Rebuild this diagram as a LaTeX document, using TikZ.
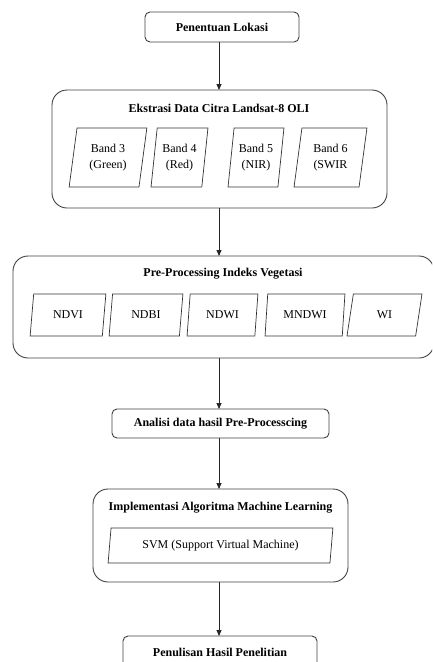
\documentclass[tikz,border=0pt]{standalone}
\usepackage{fontspec}
\setmainfont{Liberation Serif}
\usetikzlibrary{shapes.geometric,arrows.meta}

\tikzset{
  x=1pt, y=-1pt,
  frame/.style={draw=black!75, line width=0.9pt, rounded corners=#1},
  frame/.default=5pt,
  ttl/.style={font=\fontsize{12}{14}\selectfont\bfseries, inner sep=0pt},
  para/.style={trapezium, trapezium left angle=#1, trapezium right angle=180-#1,
    trapezium stretches=true, draw=black!80, line width=0.7pt,
    font=\fontsize{12}{16}\selectfont, align=center, inner sep=0pt},
  arr/.style={draw=black!85, line width=0.8pt, -{Triangle[length=6pt,width=5pt]}}
}

\begin{document}
\begin{tikzpicture}
\useasboundingbox (0,0) rectangle (432,662);
\clip (0,0) rectangle (432,662);

% x position of the vertical flow line
\coordinate (ax) at (219,0);

% Step 1: location
\draw[frame] (145,12) rectangle (299,42);
\node[ttl] (lok) at (222,27) {Penentuan Lokasi};
\coordinate (lokS) at (219,42);

% Step 2: Landsat-8 band extraction
\draw[frame=15pt] (52,90) rectangle (387,208);
\coordinate (extN) at (219,90);
\coordinate (extS) at (219,208);
\node[ttl] (ext) at (219,108) {Ekstrasi Data Citra Landsat-8 OLI};
\node[para=80, minimum width=78pt, minimum height=59pt] (b3) at (108,157.5) {Band 3\\(Green)};
\node[para=80, minimum width=57pt, minimum height=59pt] (b4) at (179.5,157.5) {Band 4\\(Red)};
\node[para=80, minimum width=56pt, minimum height=59pt] (b5) at (256,157.5) {Band 5\\(NIR)};
\node[para=80, minimum width=73pt, minimum height=59pt] (b6) at (330.5,157.5) {Band 6\\(SWIR};

% Step 3: vegetation index pre-processing
\draw[frame=15pt] (13,256) rectangle (434,358);
\coordinate (preN) at (219,256);
\coordinate (preS) at (219,358);
\node[ttl] (pre) at (223,274) {Pre-Processing Indeks Vegetasi};
\node[para=79, minimum width=76pt, minimum height=42pt] (i1) at (68,315) {NDVI};
\node[para=79, minimum width=74pt, minimum height=42pt] (i2) at (146,315) {NDBI};
\node[para=79, minimum width=71pt, minimum height=42pt] (i3) at (222.5,315) {NDWI};
\node[para=79, minimum width=80pt, minimum height=42pt] (i4) at (305,315) {MNDWI};
\node[para=79, minimum width=75pt, minimum height=42pt] (i5) at (384.5,315) {WI};

% Step 4: analysis
\draw[frame] (112,409) rectangle (329,438);
\node[ttl] (ana) at (220.5,423.5) {Analisi data hasil Pre-Processcing};
\coordinate (anaN) at (219,409);
\coordinate (anaS) at (219,438);

% Step 5: machine learning
\draw[frame=15pt] (93,489) rectangle (348,582);
\coordinate (mlN) at (219,489);
\coordinate (mlS) at (219,582);
\node[ttl] (ml) at (220.5,508) {Implementasi Algoritma Machine Learning};
\node[para=79, minimum width=225pt, minimum height=35pt] (svm) at (220.5,545.5) {SVM (Support Virtual Machine)};

% Step 6: report
\draw[frame] (123,636) rectangle (317,690);
\coordinate (tulN) at (219,636);
\node[ttl] (tul) at (220,652) {Penulisan Hasil Penelitian};

% flow arrows
\draw[arr] (lokS) -- (extN);
\draw[arr] (extS) -- (preN);
\draw[arr] (preS) -- (anaN);
\draw[arr] (anaS) -- (mlN);
\draw[arr] (mlS) -- (tulN);
\end{tikzpicture}
\end{document}
